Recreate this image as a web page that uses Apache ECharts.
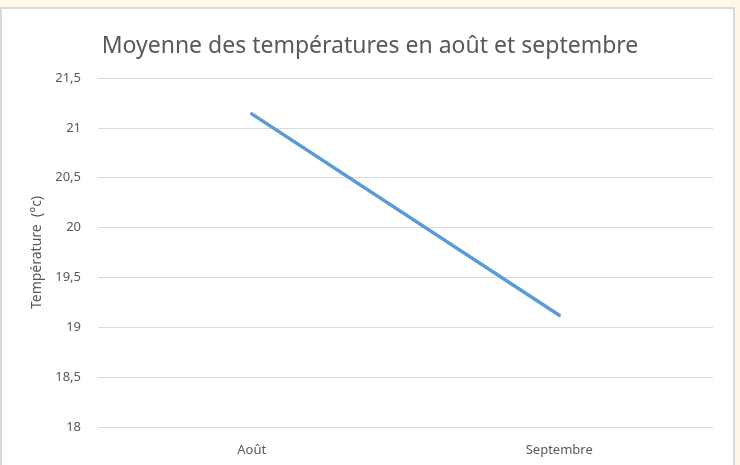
<!DOCTYPE html>
<html>
<head>
<meta charset="utf-8">
<script src="https://cdn.jsdelivr.net/npm/echarts@6/dist/echarts.min.js"></script>
<style>
html,body{margin:0;padding:0;background:#FFF8E6;}
#c{width:740px;height:465px;}
</style>
</head>
<body>
<div id="c"></div>
<script>
const categories = ['Août', 'Septembre'];
const temperatures = [21.14, 19.12];
const yTicks = [18, 18.5, 19, 19.5, 20, 20.5, 21, 21.5];

const FONT = '"Noto Sans", sans-serif';
const chart = echarts.init(document.getElementById('c'));
chart.setOption({
  backgroundColor: 'transparent',
  animation: false,
  graphic: [{
    type: 'rect', z: -10,
    shape: {x: 1, y: 8, width: 733, height: 460},
    style: {fill: '#FFFFFF', stroke: '#D9D9D9', lineWidth: 2}
  }],
  title: {
    text: 'Moyenne des températures en août et septembre',
    left: 'center', top: 30,
    textStyle: {fontFamily: FONT, fontSize: 23, fontWeight: 'normal', color: '#595959'}
  },
  grid: {left: 98, right: 27, top: 78, bottom: 38},
  xAxis: {
    type: 'category', data: categories, boundaryGap: true,
    axisLine: {show: false}, axisTick: {show: false},
    axisLabel: {color: '#595959', fontFamily: FONT, fontSize: 13, margin: 17}
  },
  yAxis: {
    type: 'value', min: yTicks[0], max: yTicks[yTicks.length - 1], interval: 0.5,
    name: 'Température  (°c)', nameLocation: 'middle', nameGap: 50, nameRotate: 90,
    nameTextStyle: {color: '#595959', fontFamily: FONT, fontSize: 14},
    axisLine: {show: false}, axisTick: {show: false},
    axisLabel: {color: '#595959', fontFamily: FONT, fontSize: 13, margin: 17,
      formatter: v => String(v).replace('.', ',')},
    splitLine: {lineStyle: {color: '#D9D9D9', width: 1}}
  },
  series: [{
    type: 'line', data: temperatures, showSymbol: false,
    lineStyle: {color: '#5B9BD5', width: 3.5, cap: 'round'},
    itemStyle: {color: '#5B9BD5'}
  }]
});
</script>
</body>
</html>
